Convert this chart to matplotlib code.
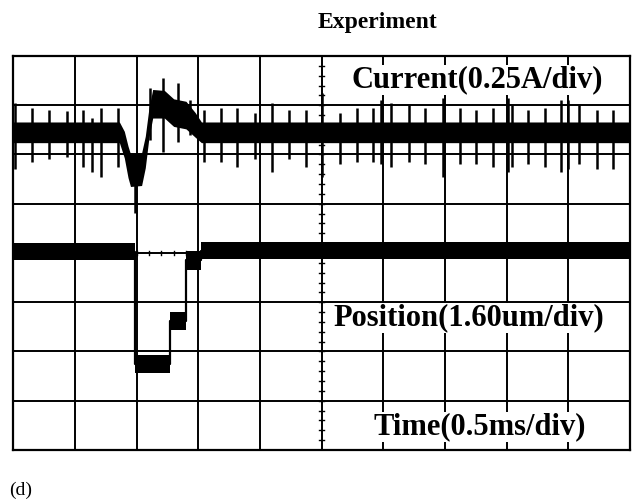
# -*- coding: utf-8 -*-
'''
scope capture: current and position response, experiment
'''
import matplotlib.pyplot as plt
import numpy as np

plt.rcParams['font.family'] = ['Liberation Serif', 'DejaVu Serif']

# screen is 10 x 8 divisions, values below are in divisions
# current trace: band centre and half width at key times
cur_t = [0, 1.72, 1.80, 1.86, 1.90, 2.08, 2.14, 2.20, 2.26, 2.45, 2.60, 2.80, 2.95, 3.05, 10]
cur_mid = [6.45, 6.45, 6.20, 5.85, 5.68, 5.70, 6.05, 6.65, 7.03, 7.02, 6.85, 6.80, 6.60, 6.45, 6.45]
cur_half = [0.21, 0.21, 0.27, 0.32, 0.33, 0.33, 0.32, 0.30, 0.29, 0.28, 0.28, 0.28, 0.25, 0.21, 0.21]

# switching spikes on the current trace
spike_t = [0.03, 0.31, 0.58, 0.87, 1.13, 1.27, 1.42, 1.69, 1.97, 2.22, 2.43, 2.67, 2.86,
           3.09, 3.36, 3.63, 3.92, 4.19, 4.47, 4.74, 5.01, 5.29, 5.57, 5.83, 5.97, 6.13,
           6.42, 6.67, 6.97, 7.24, 7.51, 7.78, 8.02, 8.08, 8.35, 8.62, 8.89, 9.00, 9.18,
           9.46, 9.72]
spike_top = [7.05, 6.95, 6.90, 6.88, 6.90, 6.75, 6.95, 6.95, 5.90, 7.35, 7.55, 7.45, 7.10,
             6.90, 6.95, 6.95, 6.85, 7.05, 6.90, 6.90, 7.25, 6.85, 6.95, 6.95, 7.10, 7.05,
             7.00, 6.95, 7.15, 6.95, 6.90, 6.95, 7.15, 7.00, 6.90, 6.95, 7.10, 7.10, 7.00,
             6.90, 6.90]
spike_bot = [5.70, 5.85, 5.90, 5.95, 5.75, 5.65, 5.55, 5.75, 4.81, 6.30, 6.05, 6.25, 6.40,
             5.85, 5.85, 5.75, 5.90, 5.65, 5.90, 5.75, 5.55, 5.80, 5.85, 5.85, 5.80, 5.75,
             5.85, 5.80, 5.55, 5.80, 5.80, 5.75, 5.65, 5.75, 5.80, 5.75, 5.65, 5.70, 5.80,
             5.70, 5.70]

# position trace: steps (band centre / half width, held until next time)
pos_t = [0, 1.98, 2.54, 2.80, 3.05, 10]
pos_mid = [4.03, 1.75, 2.62, 3.85, 4.05, 4.03]
pos_half = [0.17, 0.18, 0.18, 0.20, 0.17, 0.17]

labels = ['Current(0.25A/div)', 'Position(1.60um/div)', 'Time(0.5ms/div)']
label_y = [7.51, 2.68, 0.47]
label_x = [7.52, 7.39, 7.56]

fig = plt.figure(figsize=(6.35, 5.03), dpi=100)
ax = fig.add_axes([0.021, 0.1054, 0.971, 0.7833])
ax.set_xlim(0, 10)
ax.set_ylim(0, 8)

# graticule
for gx in range(1, 10):
    ax.axvline(gx, color='black', lw=1.4, zorder=1)
for gy in range(1, 8):
    ax.axhline(gy, color='black', lw=1.4, zorder=1)
for s in ax.spines.values():
    s.set_linewidth(1.6)
for m in np.arange(0.2, 10, 0.2):
    ax.plot([m, m], [3.96, 4.04], color='black', lw=1.0, zorder=1)
for m in np.arange(0.2, 8, 0.2):
    ax.plot([4.965, 5.035], [m, m], color='black', lw=1.0, zorder=1)
ax.set_xticks([])
ax.set_yticks([])

# current
cm = np.array(cur_mid)
ch = np.array(cur_half)
ax.fill_between(cur_t, cm - ch, cm + ch, color='black', lw=0, zorder=3)
ax.vlines(spike_t, spike_bot, spike_top, color='black', lw=1.8, zorder=3)

# position
pm = np.array(pos_mid)
ph = np.array(pos_half)
ax.fill_between(pos_t, pm - ph, pm + ph, step='post', color='black', lw=0, zorder=3)
ax.step(pos_t, pm, where='post', color='black', lw=1.6, zorder=3)

for txt, tx, ty in zip(labels, label_x, label_y):
    ax.text(tx, ty, txt, ha='center', va='center', fontsize=22,
            fontweight='bold', zorder=4,
            bbox=dict(facecolor='white', edgecolor='none', pad=0.5))

fig.text(0.595, 0.955, 'Experiment', ha='center', va='center',
         fontsize=17, fontweight='bold')
fig.text(0.015, 0.026, '(d)', ha='left', va='center', fontsize=14)

fig.savefig('out.png', dpi=100)
